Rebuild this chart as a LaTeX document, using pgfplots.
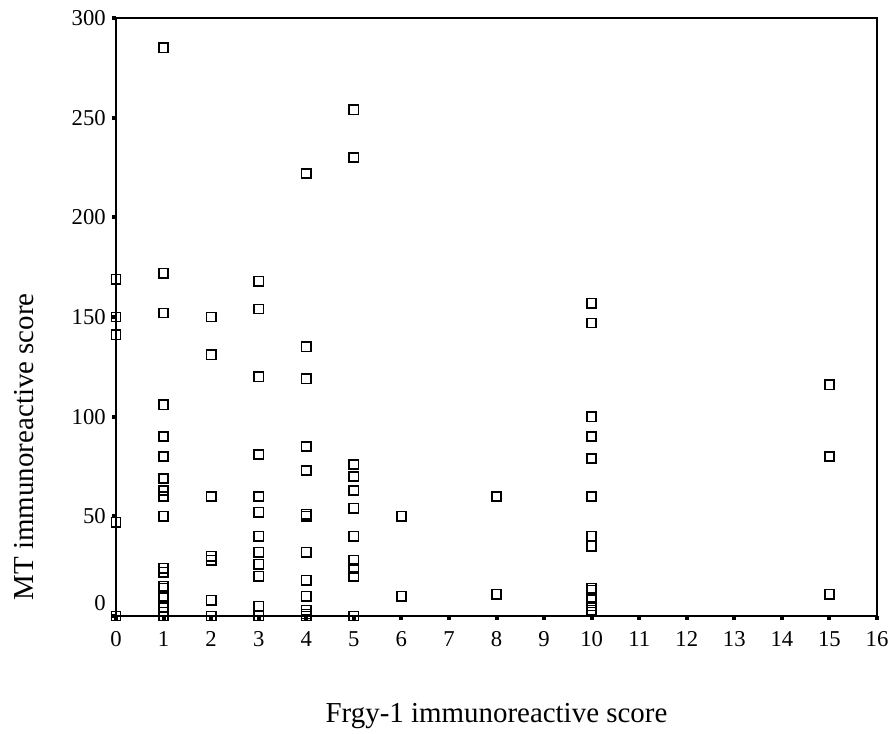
\documentclass[border=0pt]{standalone}
\usepackage{fontspec}
\setmainfont{Liberation Serif}
\usepackage{pgfplots}
\pgfplotsset{compat=1.18}
\begin{document}
\begin{tikzpicture}
\begin{axis}[
  at={(0,0)}, anchor=south west,
  scale only axis,
  width=570.75pt, height=448.5pt,
  xmin=0, xmax=16, ymin=0, ymax=300,
  xtick={0,1,...,16},
  ytick={50,100,...,300},
  extra y ticks={0},
  extra y tick labels={0},
  extra y tick style={yticklabel style={yshift=9.75pt}},
  xtick pos=bottom, ytick pos=left,
  tick align=outside,
  major tick length=3pt,
  tick style={line width=3pt, black},
  axis line style={line width=0.8pt},
  /pgf/number format/assume math mode=true,
  tick label style={font=\fontsize{17pt}{20pt}\selectfont},
  xticklabel style={yshift=-5pt},
  yticklabel style={inner sep=1pt, xshift=-3.5pt},
  clip=false,
  xlabel={Frgy-1 immunoreactive score},
  ylabel={MT immunoreactive score},
  label style={font=\fontsize{21.7pt}{26pt}\selectfont},
  xlabel style={at={(rel axis cs:0.5,0)}, anchor=north, yshift=-62pt},
  ylabel style={at={(rel axis cs:0,0.283)}, anchor=south, yshift=58pt},
]
\addplot[only marks, mark=square, mark size=3.5pt, mark options={line width=1.2pt, black}] coordinates {
(0,169) (0,150) (0,141) (0,47) (0,0)
(1,285) (1,172) (1,152) (1,106) (1,90) (1,80) (1,69) (1,63) (1,60) (1,60) (1,50) (1,24) (1,22) (1,15) (1,14) (1,10) (1,9) (1,4) (1,2) (1,0)
(2,150) (2,131) (2,60) (2,30) (2,28) (2,8) (2,0)
(3,168) (3,154) (3,120) (3,81) (3,60) (3,52) (3,40) (3,32) (3,26) (3,20) (3,5) (3,0)
(4,222) (4,135) (4,119) (4,85) (4,73) (4,51) (4,50) (4,32) (4,18) (4,10) (4,3) (4,1) (4,0)
(5,254) (5,230) (5,76) (5,70) (5,63) (5,54) (5,40) (5,28) (5,24) (5,20) (5,0)
(6,50) (6,10) (6,10)
(8,60) (8,60) (8,11)
(10,157) (10,147) (10,147) (10,100) (10,90) (10,90) (10,79) (10,60) (10,40) (10,35) (10,35) (10,14) (10,13) (10,9) (10,5) (10,3) (10,2)
(15,116) (15,80) (15,11)
};
\draw[line width=2pt] (rel axis cs:0,1) -- (rel axis cs:0,0) -- (rel axis cs:1,0);
\end{axis}
\path[use as bounding box] (-87pt,-87pt) rectangle (585pt,462pt);
\end{tikzpicture}
\end{document}
